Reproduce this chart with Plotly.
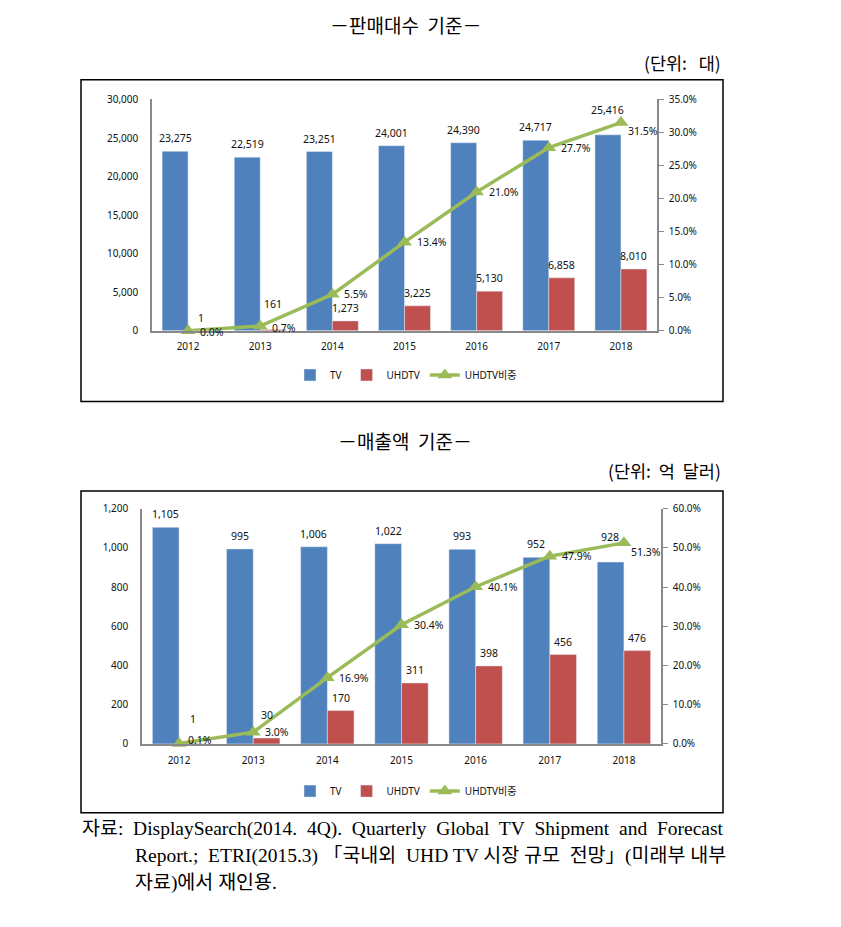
import plotly.graph_objects as go

W, H = 841, 927

years = ["2012", "2013", "2014", "2015", "2016", "2017", "2018"]

# 판매대수 기준 (단위: 대)
unit_tv = [23275, 22519, 23251, 24001, 24390, 24717, 25416]
unit_uhd = [1, 161, 1273, 3225, 5130, 6858, 8010]
unit_share = [0.0, 0.7, 5.5, 13.4, 21.0, 27.7, 31.5]

# 매출액 기준 (단위: 억 달러)
rev_tv = [1105, 995, 1006, 1022, 993, 952, 928]
rev_uhd = [1, 30, 170, 311, 398, 456, 476]
rev_share = [0.1, 3.0, 16.9, 30.4, 40.1, 47.9, 51.3]

C_TV = "#4F81BD"
C_UHD = "#C0504D"
C_LINE = "#9BBB59"
AXC = "#898989"
FONT = "Noto Sans, Noto Sans CJK KR, sans-serif"
KFONT = "Noto Sans CJK KR, sans-serif"
SERIF = "Liberation Serif, Noto Sans CJK KR, serif"


def px_x(p):
    return p / W


def px_y(p):
    return 1 - p / H


fig = go.Figure()

# ---- traces ----
def add_chart(tv, uhd, share, xa, ya, ya2, legend):
    fig.add_trace(go.Bar(x=years, y=tv, name="TV", marker_color=C_TV,
                         xaxis=xa, yaxis=ya, offsetgroup="tv" + legend,
                         legend=legend))
    fig.add_trace(go.Bar(x=years, y=uhd, name="UHDTV", marker_color=C_UHD,
                         xaxis=xa, yaxis=ya, offsetgroup="uhd" + legend,
                         legend=legend))
    fig.add_trace(go.Scatter(x=years, y=share, name="UHDTV비중", mode="lines+markers",
                             line=dict(color=C_LINE, width=3.5),
                             marker=dict(symbol="triangle-up", size=13, color=C_LINE),
                             xaxis=xa, yaxis=ya2, legend=legend, cliponaxis=False))


add_chart(unit_tv, unit_uhd, unit_share, "x", "y", "y2", "legend")
add_chart(rev_tv, rev_uhd, rev_share, "x2", "y3", "y4", "legend2")

annotations = []

# ---- data labels (category axes use serial index for annotation x) ----
def bar_labels(vals, xref, yref, xshift, special):
    for i, v in enumerate(vals):
        annotations.append(dict(x=i, y=v, xref=xref, yref=yref, text=f"{v:,}",
                                showarrow=False, xshift=xshift,
                                yshift=special.get(i, 13), yanchor="middle",
                                font=dict(family=FONT, size=10.5, color="#111")))


def line_labels(vals, xref, yref, special):
    for i, v in enumerate(vals):
        xs, ys = special.get(i, (10, 0))
        annotations.append(dict(x=i, y=v, xref=xref, yref=yref, text=f"{v:.1f}%",
                                showarrow=False, xanchor="left", xshift=xs,
                                yshift=ys, yanchor="middle",
                                font=dict(family=FONT, size=10.5, color="#111")))


bar_labels(unit_tv, "x", "y", -13, {6: 25})
bar_labels(unit_uhd, "x", "y", 13, {1: 25})
line_labels(unit_share, "x", "y2", {0: (10, -1), 1: (10, -2), 6: (5, -8)})

bar_labels(rev_tv, "x2", "y3", -13.5, {6: 25})
bar_labels(rev_uhd, "x2", "y3", 13.5, {0: 25, 1: 23})
line_labels(rev_share, "x2", "y4", {0: (7, 4), 6: (5, -9)})

NB = "\u00a0"

# ---- titles / units ----
annotations += [
    dict(x=px_x(405), y=px_y(17), xref="paper", yref="paper", text="－판매대수" + NB + " 기준－",
         showarrow=False, xanchor="center", yanchor="middle",
         font=dict(family=KFONT, size=19, color="#000")),
    dict(x=px_x(723), y=px_y(55), xref="paper", yref="paper",
         text="(단위:" + NB + NB + " 대)",
         showarrow=False, xanchor="right", yanchor="middle",
         font=dict(family=KFONT, size=17.5, color="#000")),
    dict(x=px_x(405), y=px_y(440), xref="paper", yref="paper", text="－매출액" + NB + " 기준－",
         showarrow=False, xanchor="center", yanchor="middle",
         font=dict(family=KFONT, size=19, color="#000")),
    dict(x=px_x(723), y=px_y(470), xref="paper", yref="paper",
         text="(단위:" + NB + " 억" + NB + " 달러)",
         showarrow=False, xanchor="right", yanchor="middle",
         font=dict(family=KFONT, size=17.5, color="#000")),
]

# ---- footnote ----
line1 = ("자료:" + NB + " DisplaySearch(2014." + NB + " 4Q)." + NB + " Quarterly" + NB +
         " Global" + NB + " TV" + NB + " Shipment" + NB + " and" + NB + " Forecast")
line2 = ("Report.;" + NB + " ETRI(2015.3) 「국내외" + NB + " UHD TV 시장 규모" + NB +
         " 전망」(미래부 내부")
line3 = "자료)에서 재인용."
for txt, x0, y0 in [(line1, 80, 835), (line2, 133, 862), (line3, 133, 889)]:
    annotations.append(dict(x=px_x(x0), y=px_y(y0), xref="paper", yref="paper", text=txt,
                            showarrow=False, xanchor="left", yanchor="middle",
                            font=dict(family=SERIF, size=19.5, color="#000")))

# ---- frames ----
shapes = [
    dict(type="rect", xref="paper", yref="paper", x0=px_x(81), x1=px_x(723),
         y0=px_y(400), y1=px_y(73), line=dict(color="#000", width=1.5)),
    dict(type="rect", xref="paper", yref="paper", x0=px_x(81), x1=px_x(723),
         y0=px_y(818), y1=px_y(491), line=dict(color="#000", width=1.5)),
]

tickf = dict(family=FONT, size=10, color="#111")

def xaxis(domain, anchor):
    return dict(domain=domain, anchor=anchor, type="category", range=[-0.5, 6.5],
                showline=True, linecolor=AXC, linewidth=1.5, ticks="", showgrid=False,
                tickfont=tickf, ticklabelstandoff=6, fixedrange=True)

def yleft(domain, anchor, rng, dtick):
    return dict(domain=domain, anchor=anchor, range=rng, dtick=dtick, tickformat=",",
                showline=True, linecolor=AXC, linewidth=1.5, ticks="", showgrid=False,
                zeroline=False, tickfont=tickf, ticklabelstandoff=10)

def yright(overlay, anchor, rng, dtick):
    return dict(overlaying=overlay, anchor=anchor, side="right", range=rng, dtick=dtick,
                tickformat=".1f", ticksuffix="%", showline=True, linecolor=AXC,
                linewidth=1.5, ticks="outside", ticklen=5, tickcolor=AXC, showgrid=False,
                zeroline=False, tickfont=tickf, ticklabelstandoff=3)

top_dom_y = [px_y(328), px_y(93)]
bot_dom_y = [px_y(748), px_y(509)]

fig.update_layout(
    width=W, height=H,
    margin=dict(l=0, r=0, t=0, b=0),
    paper_bgcolor="white", plot_bgcolor="white",
    barmode="group", bargap=0.28, bargroupgap=0,
    showlegend=True,
    xaxis=xaxis([px_x(152), px_x(657)], "y"),
    yaxis=yleft(top_dom_y, "x", [0, 30000], 5000),
    yaxis2=yright("y", "x", [0, 35], 5),
    xaxis2=xaxis([px_x(142), px_x(661)], "y3"),
    yaxis3=yleft(bot_dom_y, "x2", [0, 1200], 200),
    yaxis4=yright("y3", "x2", [0, 60], 10),
    legend=dict(orientation="h", x=px_x(406), xanchor="center", y=px_y(373),
                yanchor="middle", font=dict(family=FONT, size=10, color="#111"),
                itemwidth=30, bgcolor="rgba(0,0,0,0)"),
    legend2=dict(orientation="h", x=px_x(406), xanchor="center", y=px_y(796),
                 yanchor="middle", font=dict(family=FONT, size=10, color="#111"),
                 itemwidth=30, bgcolor="rgba(0,0,0,0)"),
    annotations=annotations,
    shapes=shapes,
)

fig.write_html("out.html", config={"displayModeBar": False},
               post_script="document.body.style.margin='0';document.body.style.overflow='hidden';")
